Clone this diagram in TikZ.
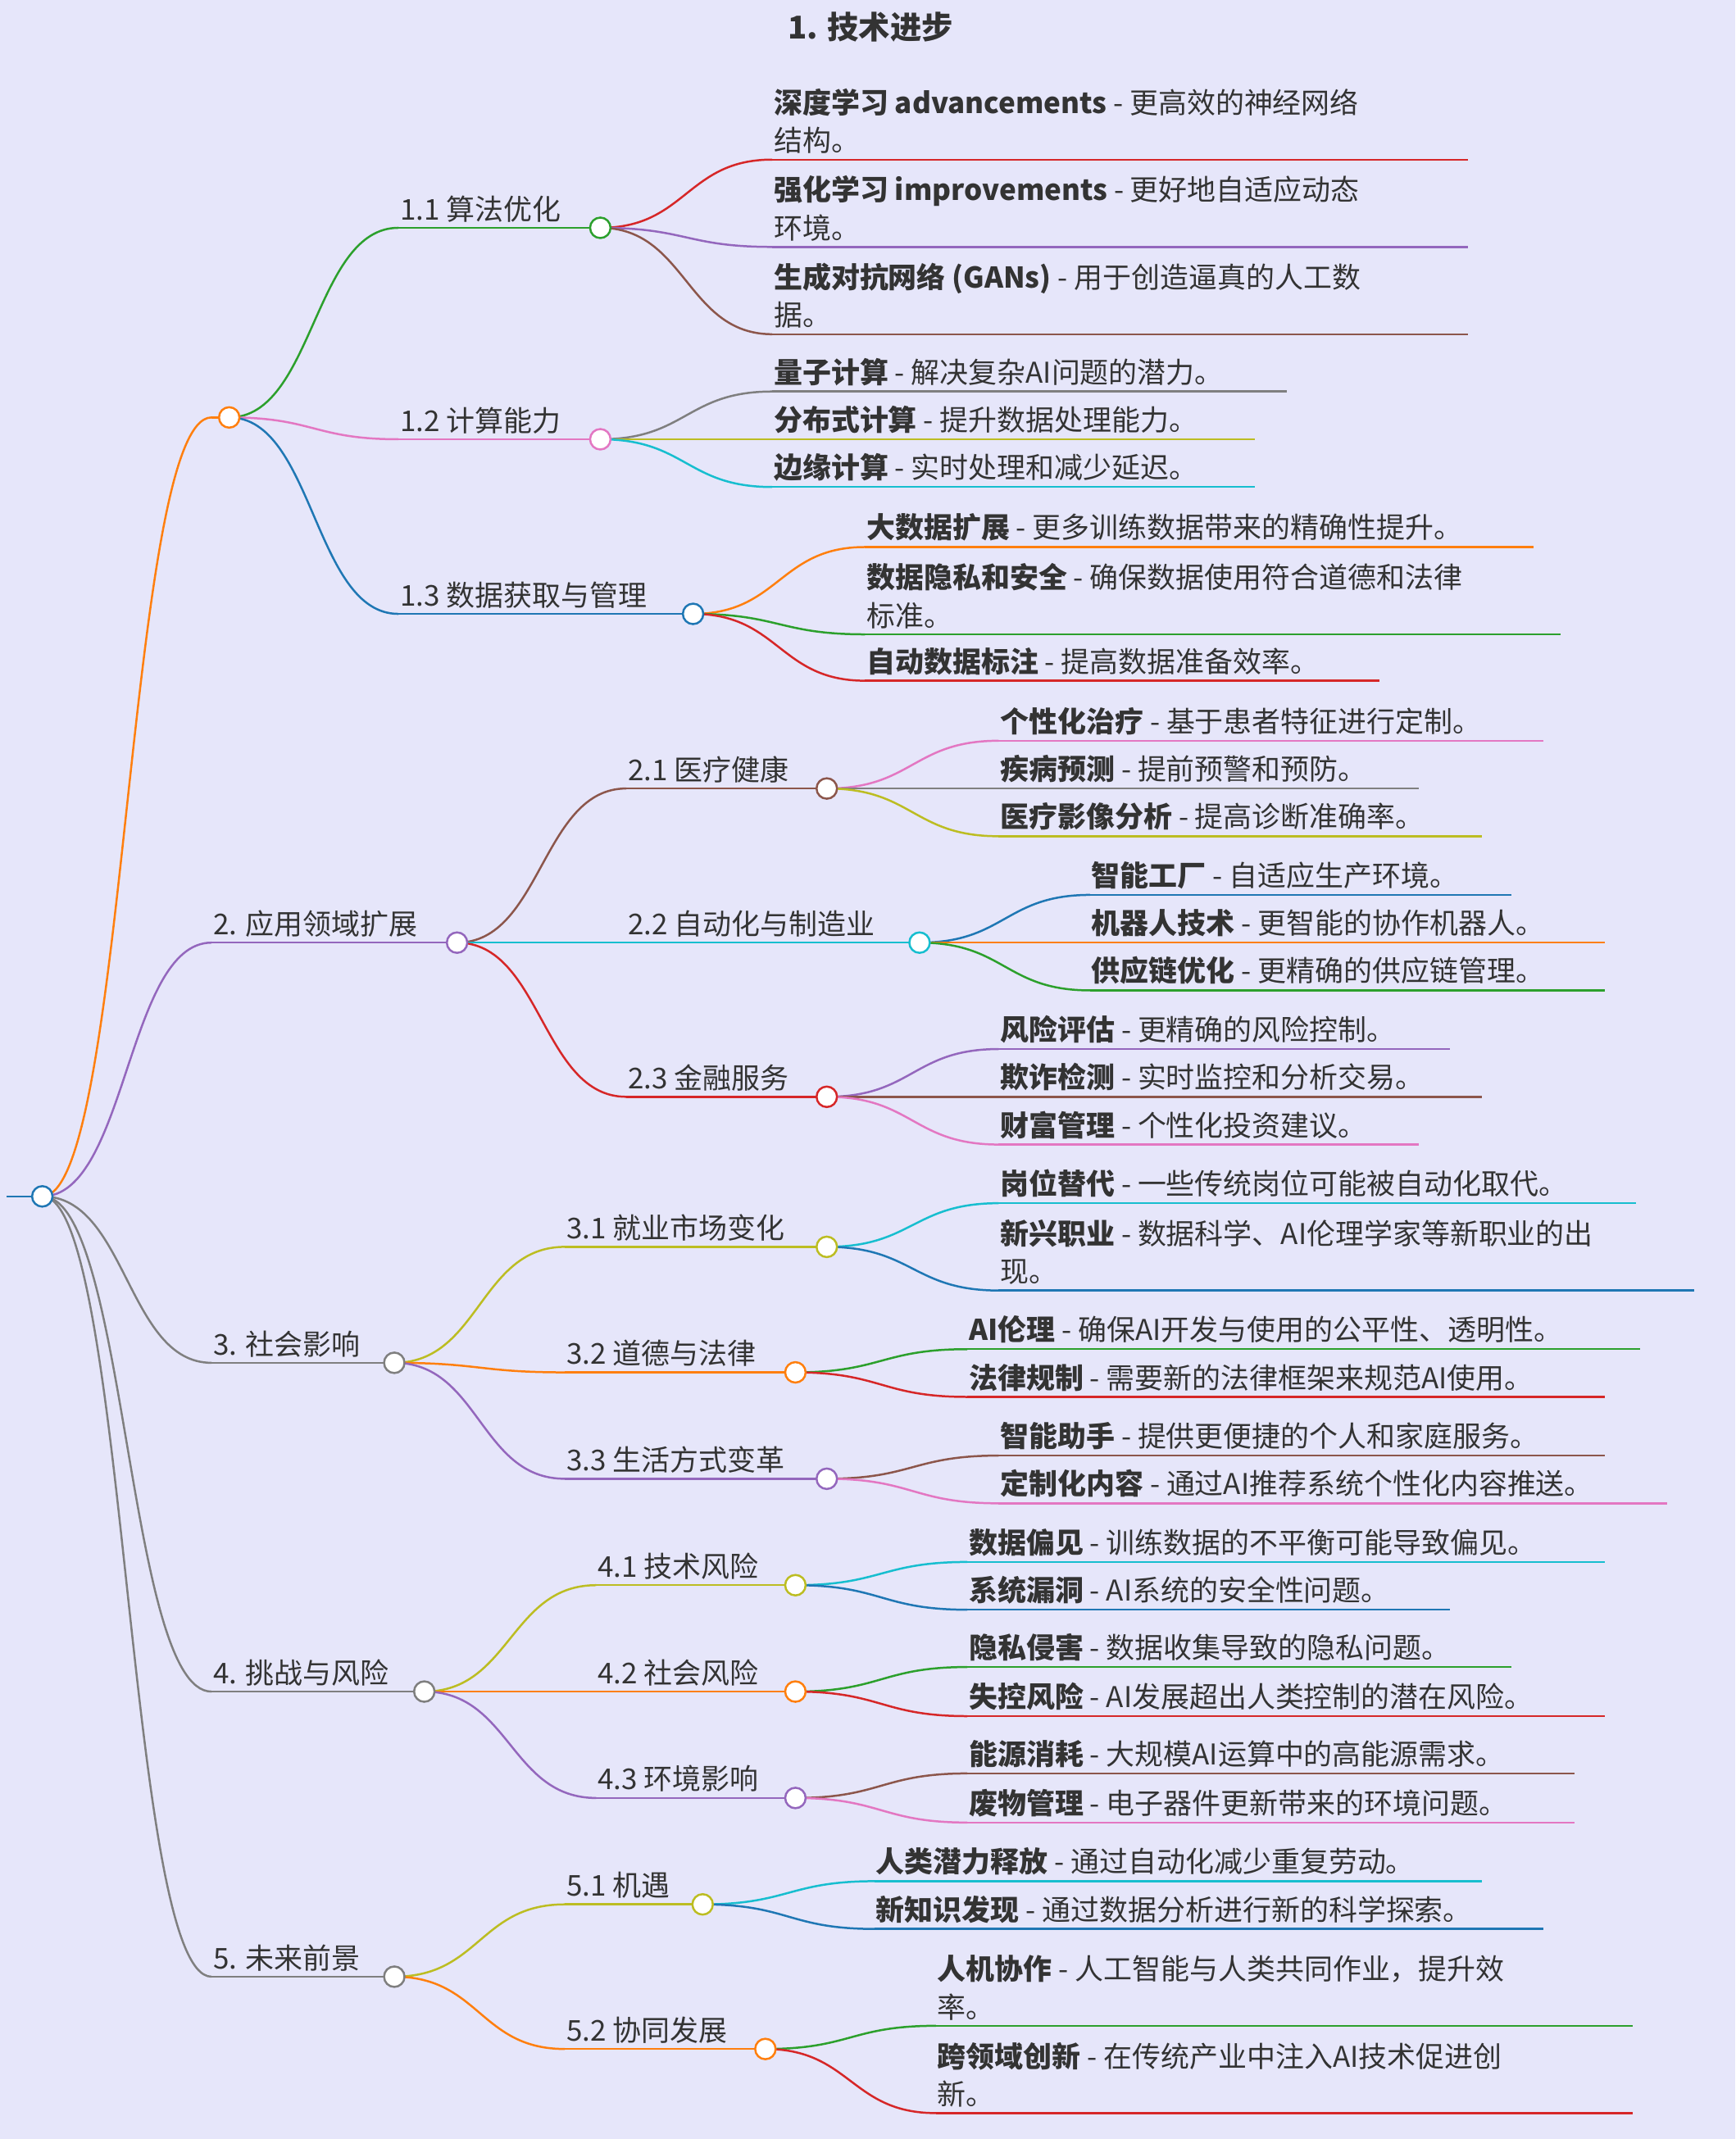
\documentclass[tikz,border=0pt]{standalone}
\usepackage{fontspec}
\setmainfont{Noto Sans CJK SC}
\usetikzlibrary{calc}
\definecolor{bg}{HTML}{E6E6FA}
\definecolor{cblue}{HTML}{1F77B4}
\definecolor{corange}{HTML}{FF7F0E}
\definecolor{cgreen}{HTML}{2CA02C}
\definecolor{cred}{HTML}{D62728}
\definecolor{cpurple}{HTML}{9467BD}
\definecolor{cbrown}{HTML}{8C564B}
\definecolor{cpink}{HTML}{E377C2}
\definecolor{cgray}{HTML}{7F7F7F}
\definecolor{colive}{HTML}{BCBD22}
\definecolor{ccyan}{HTML}{17BECF}
\definecolor{txt}{HTML}{333333}
\tikzset{
  mmline/.style={line width=1.5pt},
  mmtext/.style={anchor=south west,inner sep=0pt,text=txt,font=\fontsize{21}{28}\selectfont,align=left},
  mmdotst/.style={circle,draw,line width=1.5pt,fill=white,minimum size=15pt,inner sep=0pt},
}
% node: name, colour, x start, x end, y, text
\newcommand\mmnode[6]{%
  \coordinate (#1-s) at (#3,#5);
  \coordinate (#1) at (#4,#5);
  \draw[mmline,#2] (#1-s) -- (#1);
  \node[mmtext] (#1-t) at (#3+1,#5-4) {#6};}
\newcommand\mmconn[3]{%
  \draw[mmline,#3] let \p1=(#1), \p2=(#2-s) in
    (#1) .. controls ({0.5*\x1+0.5*\x2},\y1) and ({0.5*\x1+0.5*\x2},\y2) .. (#2-s);}
\newcommand\mmdot[2]{\node[mmdotst,draw=#2] (#1-d) at (#1) {};}
\begin{document}
\begin{tikzpicture}[x=1pt,y=-1pt]
\fill[bg] (0,0) rectangle (1272,1568);
\useasboundingbox (0,0) rectangle (1272,1568);
\node[text=txt,font=\fontsize{23}{28}\selectfont\bfseries] (title) at (638,20) {1. 技术进步};
% root
\coordinate (root-s) at (5,877);
\coordinate (root) at (31,877);
\draw[mmline,cblue] (root-s) -- (root);
% level 1
\mmnode{n1}{corange}{155}{168}{306}{}
\mmnode{n2}{cpurple}{155}{335}{691}{2. 应用领域扩展}
\mmnode{n3}{cgray}{155}{289}{999}{3. 社会影响}
\mmnode{n4}{cgray}{155}{311}{1240}{4. 挑战与风险}
\mmnode{n5}{cgray}{155}{289}{1449}{5. 未来前景}
\mmconn{root}{n1}{corange}
\mmconn{root}{n2}{cpurple}
\mmconn{root}{n3}{cgray}
\mmconn{root}{n4}{cgray}
\mmconn{root}{n5}{cgray}
% 1
\mmnode{n11}{cgreen}{292}{440}{167}{1.1 算法优化}
\mmnode{n12}{cpink}{292}{440}{322}{1.2 计算能力}
\mmnode{n13}{cblue}{292}{508}{450}{1.3 数据获取与管理}
\mmconn{n1}{n11}{cgreen}\mmconn{n1}{n12}{cpink}\mmconn{n1}{n13}{cblue}
\mmnode{l111}{cred}{566}{1076}{117}{\textbf{深度学习 advancements} - 更高效的神经网络\\结构。}
\mmnode{l112}{cpurple}{566}{1076}{181}{\textbf{强化学习 improvements} - 更好地自适应动态\\环境。}
\mmnode{l113}{cbrown}{566}{1076}{245}{\textbf{生成对抗网络 (GANs)} - 用于创造逼真的人工数\\据。}
\mmconn{n11}{l111}{cred}\mmconn{n11}{l112}{cpurple}\mmconn{n11}{l113}{cbrown}
\mmnode{l121}{cgray}{566}{943}{287}{\textbf{量子计算} - 解决复杂AI问题的潜力。}
\mmnode{l122}{colive}{566}{920}{322}{\textbf{分布式计算} - 提升数据处理能力。}
\mmnode{l123}{ccyan}{566}{920}{357}{\textbf{边缘计算} - 实时处理和减少延迟。}
\mmconn{n12}{l121}{cgray}\mmconn{n12}{l122}{colive}\mmconn{n12}{l123}{ccyan}
\mmnode{l131}{corange}{634}{1124}{401}{\textbf{大数据扩展} - 更多训练数据带来的精确性提升。}
\mmnode{l132}{cgreen}{634}{1144}{465}{\textbf{数据隐私和安全} - 确保数据使用符合道德和法律\\标准。}
\mmnode{l133}{cred}{634}{1011}{499}{\textbf{自动数据标注} - 提高数据准备效率。}
\mmconn{n13}{l131}{corange}\mmconn{n13}{l132}{cgreen}\mmconn{n13}{l133}{cred}
% 2
\mmnode{n21}{cbrown}{459}{606}{578}{2.1 医疗健康}
\mmnode{n22}{ccyan}{459}{674}{691}{2.2 自动化与制造业}
\mmnode{n23}{cred}{459}{606}{804}{2.3 金融服务}
\mmconn{n2}{n21}{cbrown}\mmconn{n2}{n22}{ccyan}\mmconn{n2}{n23}{cred}
\mmnode{l211}{cpink}{732}{1131}{543}{\textbf{个性化治疗} - 基于患者特征进行定制。}
\mmnode{l212}{cgray}{732}{1040}{578}{\textbf{疾病预测} - 提前预警和预防。}
\mmnode{l213}{colive}{732}{1086}{613}{\textbf{医疗影像分析} - 提高诊断准确率。}
\mmconn{n21}{l211}{cpink}\mmconn{n21}{l212}{cgray}\mmconn{n21}{l213}{colive}
\mmnode{l221}{cblue}{799}{1108}{656}{\textbf{智能工厂} - 自适应生产环境。}
\mmnode{l222}{corange}{799}{1176}{691}{\textbf{机器人技术} - 更智能的协作机器人。}
\mmnode{l223}{cgreen}{799}{1176}{726}{\textbf{供应链优化} - 更精确的供应链管理。}
\mmconn{n22}{l221}{cblue}\mmconn{n22}{l222}{corange}\mmconn{n22}{l223}{cgreen}
\mmnode{l231}{cpurple}{732}{1063}{769}{\textbf{风险评估} - 更精确的风险控制。}
\mmnode{l232}{cbrown}{732}{1086}{804}{\textbf{欺诈检测} - 实时监控和分析交易。}
\mmnode{l233}{cpink}{732}{1040}{839}{\textbf{财富管理} - 个性化投资建议。}
\mmconn{n23}{l231}{cpurple}\mmconn{n23}{l232}{cbrown}\mmconn{n23}{l233}{cpink}
% 3
\mmnode{n31}{colive}{414}{606}{914}{3.1 就业市场变化}
\mmnode{n32}{corange}{414}{583}{1006}{3.2 道德与法律}
\mmnode{n33}{cpurple}{414}{606}{1084}{3.3 生活方式变革}
\mmconn{n3}{n31}{colive}\mmconn{n3}{n32}{corange}\mmconn{n3}{n33}{cpurple}
\mmnode{l311}{ccyan}{732}{1199}{882}{\textbf{岗位替代} - 一些传统岗位可能被自动化取代。}
\mmnode{l312}{cblue}{732}{1242}{946}{\textbf{新兴职业} - 数据科学、AI伦理学家等新职业的出\\现。}
\mmconn{n31}{l311}{ccyan}\mmconn{n31}{l312}{cblue}
\mmnode{l321}{cgreen}{709}{1202}{989}{\textbf{AI伦理} - 确保AI开发与使用的公平性、透明性。}
\mmnode{l322}{cred}{709}{1176}{1024}{\textbf{法律规制} - 需要新的法律框架来规范AI使用。}
\mmconn{n32}{l321}{cgreen}\mmconn{n32}{l322}{cred}
\mmnode{l331}{cbrown}{732}{1176}{1067}{\textbf{智能助手} - 提供更便捷的个人和家庭服务。}
\mmnode{l332}{cpink}{732}{1222}{1102}{\textbf{定制化内容} - 通过AI推荐系统个性化内容推送。}
\mmconn{n33}{l331}{cbrown}\mmconn{n33}{l332}{cpink}
% 4
\mmnode{n41}{colive}{437}{583}{1162}{4.1 技术风险}
\mmnode{n42}{corange}{437}{583}{1240}{4.2 社会风险}
\mmnode{n43}{cpurple}{437}{583}{1318}{4.3 环境影响}
\mmconn{n4}{n41}{colive}\mmconn{n4}{n42}{corange}\mmconn{n4}{n43}{cpurple}
\mmnode{l411}{ccyan}{709}{1176}{1145}{\textbf{数据偏见} - 训练数据的不平衡可能导致偏见。}
\mmnode{l412}{cblue}{709}{1063}{1180}{\textbf{系统漏洞} - AI系统的安全性问题。}
\mmconn{n41}{l411}{ccyan}\mmconn{n41}{l412}{cblue}
\mmnode{l421}{cgreen}{709}{1108}{1222}{\textbf{隐私侵害} - 数据收集导致的隐私问题。}
\mmnode{l422}{cred}{709}{1176}{1258}{\textbf{失控风险} - AI发展超出人类控制的潜在风险。}
\mmconn{n42}{l421}{cgreen}\mmconn{n42}{l422}{cred}
\mmnode{l431}{cbrown}{709}{1154}{1300}{\textbf{能源消耗} - 大规模AI运算中的高能源需求。}
\mmnode{l432}{cpink}{709}{1154}{1336}{\textbf{废物管理} - 电子器件更新带来的环境问题。}
\mmconn{n43}{l431}{cbrown}\mmconn{n43}{l432}{cpink}
% 5
\mmnode{n51}{colive}{414}{515}{1396}{5.1 机遇}
\mmnode{n52}{corange}{414}{561}{1502}{5.2 协同发展}
\mmconn{n5}{n51}{colive}\mmconn{n5}{n52}{corange}
\mmnode{l511}{ccyan}{641}{1086}{1379}{\textbf{人类潜力释放} - 通过自动化减少重复劳动。}
\mmnode{l512}{cblue}{641}{1131}{1414}{\textbf{新知识发现} - 通过数据分析进行新的科学探索。}
\mmconn{n51}{l511}{ccyan}\mmconn{n51}{l512}{cblue}
\mmnode{l521}{cgreen}{686}{1197}{1485}{\textbf{人机协作} - 人工智能与人类共同作业，提升效\\率。}
\mmnode{l522}{cred}{686}{1197}{1549}{\textbf{跨领域创新} - 在传统产业中注入AI技术促进创\\新。}
\mmconn{n52}{l521}{cgreen}\mmconn{n52}{l522}{cred}
% dots
\mmdot{root}{cblue}
\mmdot{n1}{corange}\mmdot{n2}{cpurple}\mmdot{n3}{cgray}\mmdot{n4}{cgray}\mmdot{n5}{cgray}
\mmdot{n11}{cgreen}\mmdot{n12}{cpink}\mmdot{n13}{cblue}
\mmdot{n21}{cbrown}\mmdot{n22}{ccyan}\mmdot{n23}{cred}
\mmdot{n31}{colive}\mmdot{n32}{corange}\mmdot{n33}{cpurple}
\mmdot{n41}{colive}\mmdot{n42}{corange}\mmdot{n43}{cpurple}
\mmdot{n51}{colive}\mmdot{n52}{corange}
\end{tikzpicture}
\end{document}
